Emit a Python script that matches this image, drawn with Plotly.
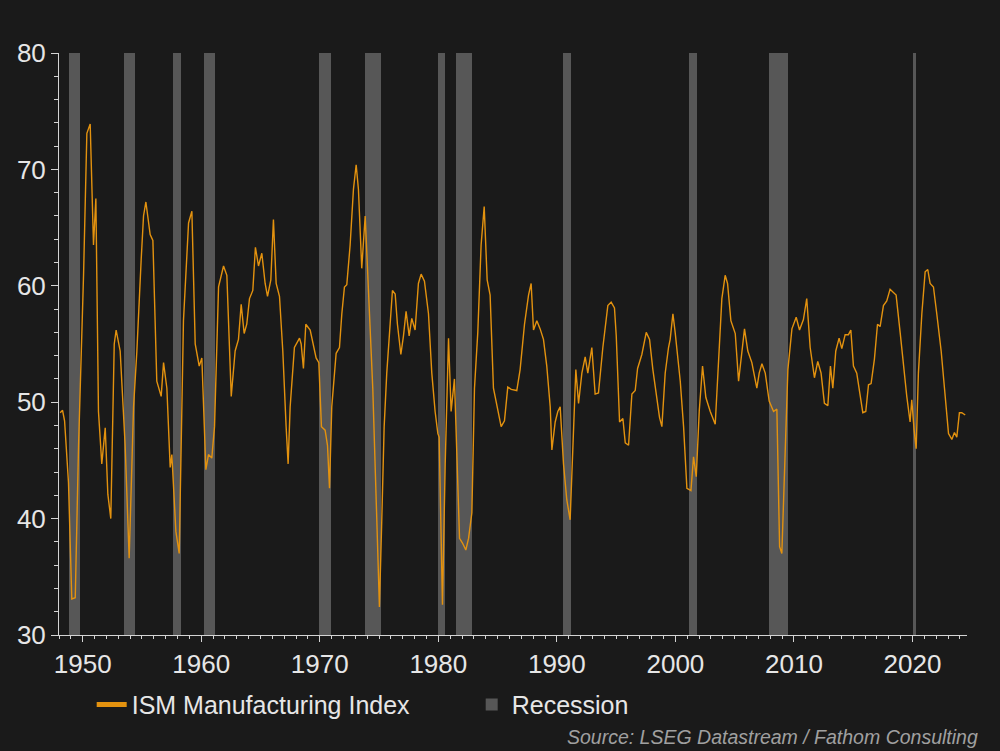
import plotly.graph_objects as go

# ISM Manufacturing Index (decimal year, value)
ism_dates = [
    1948.10, 1948.30, 1948.47, 1948.80, 1949.08, 1949.37, 1949.65, 1950.07, 1950.35, 1950.63,
    1950.91, 1951.11, 1951.33, 1951.61, 1951.90, 1952.12, 1952.37, 1952.66, 1952.82, 1953.16,
    1953.58, 1953.92, 1954.29, 1954.57, 1954.93, 1955.13, 1955.33, 1955.69, 1955.92, 1956.25,
    1956.62, 1956.82, 1957.10, 1957.38, 1957.52, 1957.86, 1958.14, 1958.50, 1958.93, 1959.21,
    1959.49, 1959.83, 1960.05, 1960.39, 1960.61, 1960.89, 1961.12, 1961.46, 1961.88, 1962.16,
    1962.53, 1962.86, 1963.14, 1963.37, 1963.62, 1963.84, 1964.07, 1964.35, 1964.57, 1964.83,
    1965.11, 1965.39, 1965.59, 1965.87, 1966.09, 1966.32, 1966.60, 1966.88, 1967.16, 1967.33,
    1967.50, 1967.72, 1967.86, 1968.29, 1968.43, 1968.62, 1968.82, 1969.19, 1969.47, 1969.69,
    1969.92, 1970.14, 1970.45, 1970.65, 1970.82, 1971.01, 1971.38, 1971.66, 1971.86, 1972.08,
    1972.28, 1972.56, 1972.84, 1973.07, 1973.26, 1973.54, 1973.83, 1974.11, 1974.47, 1974.81,
    1975.03, 1975.23, 1975.43, 1975.65, 1975.88, 1976.13, 1976.36, 1976.55, 1976.84, 1977.06,
    1977.28, 1977.54, 1977.76, 1978.04, 1978.32, 1978.55, 1978.83, 1979.17, 1979.45, 1979.73,
    1979.96, 1980.07, 1980.35, 1980.58, 1980.86, 1981.08, 1981.36, 1981.56, 1981.79, 1982.04,
    1982.32, 1982.55, 1982.83, 1983.05, 1983.33, 1983.61, 1983.87, 1984.12, 1984.37, 1984.65,
    1984.94, 1985.30, 1985.58, 1985.86, 1986.15, 1986.62, 1986.90, 1987.27, 1987.61, 1987.83,
    1988.03, 1988.31, 1988.59, 1988.87, 1989.15, 1989.44, 1989.58, 1989.86, 1990.08, 1990.28,
    1990.56, 1990.84, 1991.12, 1991.40, 1991.60, 1991.83, 1992.11, 1992.39, 1992.61, 1992.95,
    1993.23, 1993.51, 1993.88, 1994.30, 1994.58, 1994.86, 1995.01, 1995.29, 1995.57, 1995.77,
    1996.05, 1996.33, 1996.61, 1996.81, 1997.17, 1997.54, 1997.82, 1998.10, 1998.38, 1998.66,
    1998.86, 1999.14, 1999.42, 1999.56, 1999.79, 1999.98, 2000.41, 2000.69, 2000.97, 2001.31,
    2001.53, 2001.76, 2002.01, 2002.29, 2002.57, 2002.94, 2003.36, 2003.64, 2003.92, 2004.20,
    2004.40, 2004.68, 2005.05, 2005.33, 2005.61, 2005.83, 2006.11, 2006.45, 2006.87, 2007.07,
    2007.30, 2007.58, 2007.91, 2008.28, 2008.56, 2008.79, 2008.98, 2009.12, 2009.49, 2009.83,
    2010.19, 2010.47, 2010.80, 2011.08, 2011.37, 2011.73, 2012.01, 2012.29, 2012.57, 2012.86,
    2013.08, 2013.28, 2013.53, 2013.81, 2014.04, 2014.32, 2014.60, 2014.80, 2015.02, 2015.30,
    2015.58, 2015.81, 2016.06, 2016.29, 2016.51, 2016.79, 2017.05, 2017.27, 2017.55, 2017.83,
    2018.11, 2018.40, 2018.62, 2018.96, 2019.24, 2019.52, 2019.80, 2019.94, 2020.14, 2020.31,
    2020.50, 2020.79, 2021.07, 2021.29, 2021.49, 2021.77, 2022.05, 2022.42, 2022.70, 2023.04,
    2023.32, 2023.54, 2023.74, 2023.96, 2024.16, 2024.45,
]
ism_values = [
    49.1, 49.3, 48.4, 43.1, 33.1, 33.2, 46.3, 60.9, 73.1, 73.9,
    63.5, 67.5, 49.2, 44.7, 47.8, 42.1, 40.0, 55.0, 56.2, 54.4,
    46.3, 36.6, 49.6, 54.4, 62.2, 66.0, 67.2, 64.4, 63.9, 51.8,
    50.5, 53.4, 51.2, 44.4, 45.5, 38.9, 37.0, 57.0, 65.4, 66.4,
    55.0, 53.1, 53.8, 44.2, 45.5, 45.2, 47.9, 59.9, 61.7, 60.9,
    50.5, 54.4, 55.4, 58.4, 55.9, 56.7, 58.9, 59.6, 63.3, 61.7,
    62.8, 60.2, 59.1, 60.5, 65.7, 60.2, 59.1, 54.4, 47.9, 44.7,
    49.6, 52.8, 54.7, 55.5, 55.0, 52.9, 56.7, 56.2, 54.7, 53.8,
    53.4, 47.9, 47.6, 46.3, 42.6, 49.6, 54.2, 54.7, 57.6, 59.9,
    60.1, 63.5, 68.3, 70.4, 68.3, 61.5, 66.0, 59.6, 51.2, 39.9,
    32.4, 39.9, 47.9, 52.5, 55.7, 59.6, 59.3, 56.7, 54.1, 55.7,
    57.8, 55.7, 57.2, 56.2, 60.2, 61.0, 60.4, 57.6, 52.5, 49.2,
    47.3, 47.0, 32.6, 44.7, 55.5, 49.2, 52.0, 46.3, 38.3, 37.9,
    37.3, 38.3, 40.5, 51.2, 56.0, 63.5, 66.8, 60.5, 59.2, 51.2,
    49.6, 47.9, 48.4, 51.3, 51.1, 51.0, 52.8, 56.7, 59.2, 60.2,
    56.2, 57.0, 56.3, 55.4, 53.1, 49.6, 45.9, 48.3, 49.2, 49.6,
    44.7, 41.6, 39.9, 47.9, 52.8, 49.9, 52.5, 53.9, 52.5, 54.7,
    50.7, 50.8, 54.7, 58.3, 58.6, 58.1, 55.7, 48.3, 48.6, 46.5,
    46.3, 50.7, 51.0, 52.9, 54.1, 56.0, 55.4, 52.8, 50.5, 48.7,
    47.9, 52.5, 54.7, 55.4, 57.6, 56.0, 51.8, 47.9, 42.6, 42.4,
    45.3, 43.6, 49.2, 53.1, 50.4, 49.2, 48.1, 53.8, 58.9, 60.9,
    60.2, 57.0, 55.9, 51.8, 54.4, 56.3, 54.4, 53.4, 51.2, 52.5,
    53.3, 52.5, 50.1, 49.2, 49.4, 37.6, 37.0, 41.5, 52.8, 56.3,
    57.3, 56.2, 57.1, 58.9, 54.7, 52.1, 53.5, 52.5, 49.9, 49.7,
    53.1, 51.2, 54.4, 55.5, 54.6, 55.8, 55.8, 56.2, 53.1, 52.5,
    50.8, 49.1, 49.2, 51.5, 51.6, 53.7, 56.7, 56.5, 58.3, 58.7,
    59.7, 59.4, 59.2, 56.0, 53.1, 50.5, 48.3, 50.2, 47.6, 46.0,
    52.5, 57.6, 61.2, 61.4, 60.2, 59.9, 57.6, 54.4, 51.2, 47.3,
    46.8, 47.4, 47.0, 49.1, 49.1, 48.9,
]

# US recessions (start, end) in decimal years
rec_start = [1948.83, 1953.50, 1957.58, 1960.25, 1969.92, 1973.83,
             1980.00, 1981.50, 1990.50, 2001.17, 2007.92, 2020.08]
rec_end = [1949.80, 1954.42, 1958.33, 1961.17, 1970.92, 1975.20,
           1980.58, 1982.88, 1991.20, 2001.85, 2009.48, 2020.30]

y_min, y_max = 30, 80
x_tick_vals = [1950, 1960, 1970, 1980, 1990, 2000, 2010, 2020]
y_tick_vals = [30, 40, 50, 60, 70, 80]

BG = "#1a1a1a"
TXT = "#e6e6e6"
AX = "#d4d4d4"
FONT = "Liberation Sans, Arial, sans-serif"

rec_mid = [(s + e) / 2 for s, e in zip(rec_start, rec_end)]
rec_w = [e - s for s, e in zip(rec_start, rec_end)]

fig = go.Figure()
fig.add_trace(go.Bar(
    x=rec_mid, y=[y_max - y_min] * len(rec_mid), base=[y_min] * len(rec_mid),
    width=rec_w, name="Recession", marker=dict(color="#575757", line=dict(width=0)),
    legendrank=2, hoverinfo="skip",
))
fig.add_trace(go.Scatter(
    x=ism_dates, y=ism_values, mode="lines", name="ISM Manufacturing Index",
    line=dict(color="#e3920f", width=1.4), legendrank=1,
))

fig.update_layout(
    width=1000, height=751,
    paper_bgcolor=BG, plot_bgcolor=BG,
    margin=dict(l=59, r=33, t=53, b=116),
    font=dict(family=FONT, color=TXT, size=25),
    bargap=0,
    showlegend=True,
    legend=dict(orientation="h", x=0.036, xanchor="left", y=-0.12, yanchor="middle",
                font=dict(size=25, color=TXT), bgcolor="rgba(0,0,0,0)",
                entrywidth=335, entrywidthmode="pixels",
                itemsizing="constant", traceorder="normal"),
    xaxis=dict(range=[1948.0, 2024.6], tickvals=x_tick_vals, showgrid=False, zeroline=False,
               showline=True, linecolor=AX, linewidth=1, ticks="outside", ticklen=6,
               tickcolor=AX, tickfont=dict(size=26, color=TXT),
               minor=dict(dtick=1, tick0=1948, ticks="outside", ticklen=3, tickcolor=AX)),
    yaxis=dict(range=[y_min, y_max], tickvals=y_tick_vals, showgrid=False, zeroline=False,
               showline=True, linecolor=AX, linewidth=1, ticks="outside", ticklen=7,
               tickcolor=AX, tickfont=dict(size=26, color=TXT),
               minor=dict(dtick=2, tick0=30, ticks="outside", ticklen=4, tickcolor=AX)),
    annotations=[dict(
        text="<i>Source: LSEG Datastream / Fathom Consulting</i>",
        xref="paper", yref="paper", x=(980 - 59) / 908, y=-(737 - 635) / 582,
        xanchor="right", yanchor="middle", showarrow=False,
        font=dict(size=19.5, color="#a0a0a0", family=FONT),
    )],
)

fig.write_html("out.html")
